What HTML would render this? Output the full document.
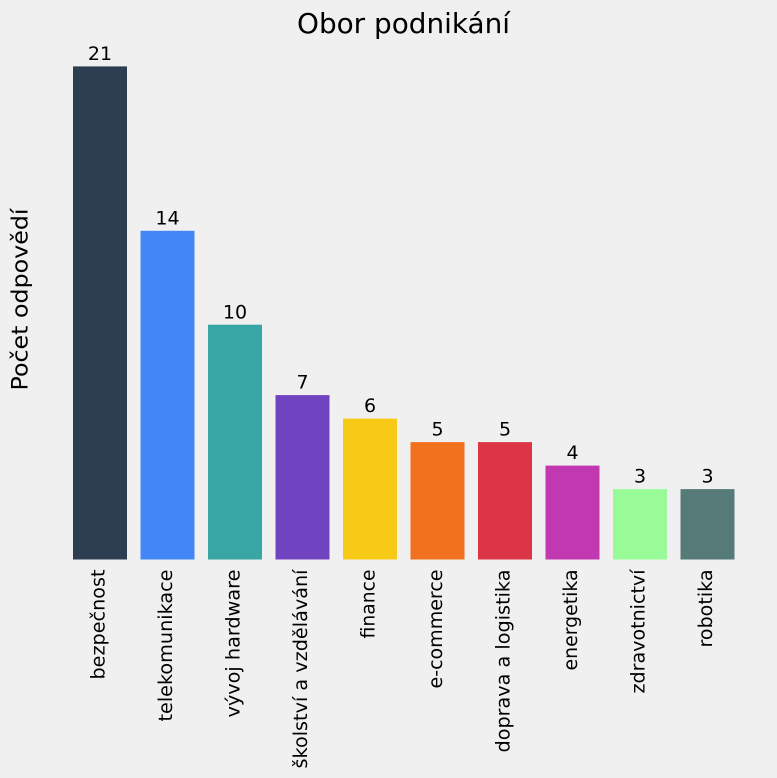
<!DOCTYPE html>
<html>
<head>
<meta charset="utf-8">
<style>
  html, body { margin: 0; padding: 0; background: #f0f0f0; }
  svg { display: block; }
  text { font-family: "DejaVu Sans", "Liberation Sans", sans-serif; fill: #000; }
</style>
</head>
<body>
<svg width="777" height="778" viewBox="0 0 777 778" xmlns="http://www.w3.org/2000/svg">
  <rect x="0" y="0" width="777" height="778" fill="#f0f0f0"/>

  <!-- Title -->
  <text x="403.5" y="33" font-size="27.5" text-anchor="middle" textLength="213" lengthAdjust="spacingAndGlyphs">Obor podnikání</text>

  <!-- Y label -->
  <text transform="translate(27.5,299.5) rotate(-90)" font-size="22" text-anchor="middle" textLength="182" lengthAdjust="spacingAndGlyphs">Počet odpovědí</text>

  <!-- Bars -->
  <rect x="73" y="66.4" width="54" height="493.1" fill="#2c3e50"/>
  <rect x="140.5" y="230.8" width="54" height="328.7" fill="#4287f5"/>
  <rect x="208" y="324.7" width="54" height="234.8" fill="#37a6a4"/>
  <rect x="275.5" y="395.1" width="54" height="164.4" fill="#7044c1"/>
  <rect x="343" y="418.6" width="54" height="140.9" fill="#f7ca18"/>
  <rect x="410.5" y="442.1" width="54" height="117.4" fill="#f2711f"/>
  <rect x="478" y="442.1" width="54" height="117.4" fill="#dc3545"/>
  <rect x="545.5" y="465.6" width="54" height="93.9" fill="#c238b1"/>
  <rect x="613" y="489.1" width="54" height="70.4" fill="#98fb98"/>
  <rect x="680.5" y="489.1" width="54" height="70.4" fill="#557a78"/>

  <!-- Value labels -->
  <g font-size="19" text-anchor="middle">
    <text x="100" y="60">21</text>
    <text x="167.5" y="224.5">14</text>
    <text x="235" y="318.3">10</text>
    <text x="302.5" y="388.7">7</text>
    <text x="370" y="412.2">6</text>
    <text x="437.5" y="435.7">5</text>
    <text x="505" y="435.7">5</text>
    <text x="572.5" y="459.2">4</text>
    <text x="640" y="482.7">3</text>
    <text x="707.5" y="482.7">3</text>
  </g>

  <!-- X tick labels -->
  <g font-size="18.5" text-anchor="end">
    <text transform="translate(104.5,569.5) rotate(-90)" textLength="110" lengthAdjust="spacingAndGlyphs">bezpečnost</text>
    <text transform="translate(172,569.5) rotate(-90)" textLength="152" lengthAdjust="spacingAndGlyphs">telekomunikace</text>
    <text transform="translate(239.5,569.5) rotate(-90)" textLength="148" lengthAdjust="spacingAndGlyphs">vývoj hardware</text>
    <text transform="translate(307,569.5) rotate(-90)" textLength="199" lengthAdjust="spacingAndGlyphs">školství a vzdělávání</text>
    <text transform="translate(374.5,569.5) rotate(-90)" textLength="69" lengthAdjust="spacingAndGlyphs">finance</text>
    <text transform="translate(442,569.5) rotate(-90)" textLength="119" lengthAdjust="spacingAndGlyphs">e-commerce</text>
    <text transform="translate(509.5,569.5) rotate(-90)" textLength="183" lengthAdjust="spacingAndGlyphs">doprava a logistika</text>
    <text transform="translate(577,569.5) rotate(-90)" textLength="101" lengthAdjust="spacingAndGlyphs">energetika</text>
    <text transform="translate(644.5,569.5) rotate(-90)" textLength="124" lengthAdjust="spacingAndGlyphs">zdravotnictví</text>
    <text transform="translate(712,569.5) rotate(-90)" textLength="78" lengthAdjust="spacingAndGlyphs">robotika</text>
  </g>
</svg>
</body>
</html>
